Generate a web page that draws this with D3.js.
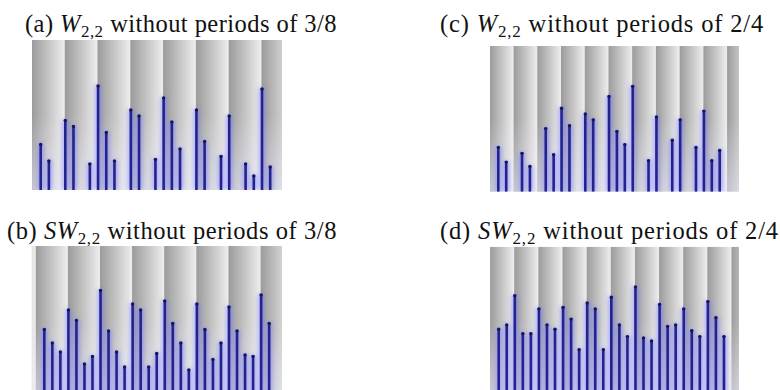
<!DOCTYPE html>
<html>
<head>
<meta charset="utf-8">
<script src="https://cdn.jsdelivr.net/npm/d3@7/dist/d3.min.js"></script>
<style>
  body { margin: 0; background: #fff; }
  svg { display: block; }
</style>
</head>
<body>
<svg id="chart"></svg>
<script>
// slot positions that carry a bar
const slotsW = [1, 2, 4, 5, 7, 8, 9, 10, 12, 13, 15, 16, 17, 18, 20, 21, 23, 24, 26, 27, 28, 29];
const slotsSW = [1, 2, 3, 4, 5, 6, 7, 8, 9, 10, 11, 12, 13, 14, 15, 16, 17, 18, 19, 20, 21, 22, 23, 24, 25, 26, 27, 28, 29];

// bar heights, as a share of the panel height
const valuesA = [0.31, 0.20, 0.47, 0.43, 0.18, 0.70, 0.39, 0.20, 0.54, 0.50, 0.21,
                 0.62, 0.46, 0.28, 0.54, 0.33, 0.23, 0.50, 0.18, 0.10, 0.68, 0.16];
const valuesB = [0.45, 0.36, 0.30, 0.58, 0.51, 0.22, 0.27, 0.71, 0.44, 0.30, 0.20, 0.62, 0.58, 0.20, 0.29,
                 0.64, 0.49, 0.36, 0.18, 0.62, 0.45, 0.25, 0.36, 0.60, 0.44, 0.28, 0.27, 0.68, 0.49];
const valuesC = [0.31, 0.21, 0.27, 0.18, 0.44, 0.26, 0.58, 0.46, 0.54, 0.50, 0.66,
                 0.42, 0.33, 0.73, 0.22, 0.52, 0.36, 0.50, 0.31, 0.56, 0.22, 0.29];
const valuesD = [0.44, 0.47, 0.67, 0.41, 0.41, 0.58, 0.47, 0.44, 0.59, 0.51, 0.30, 0.62, 0.58, 0.30, 0.66,
                 0.47, 0.39, 0.73, 0.38, 0.36, 0.61, 0.46, 0.47, 0.58, 0.43, 0.39, 0.63, 0.52, 0.39];

const labels = ['(a)', '(b)', '(c)', '(d)'];
const symbols = ['W', 'SW', 'W', 'SW'];
const periods = ['3/8', '3/8', '2/4', '2/4'];

const W = 780, H = 390;
const svg = d3.select('#chart').attr('width', W).attr('height', H);
const defs = svg.append('defs');

const stripeGrad = defs.append('linearGradient').attr('id', 'stripe')
  .attr('x1', 0).attr('x2', 1).attr('y1', 0).attr('y2', 0);
stripeGrad.append('stop').attr('offset', 0).attr('stop-color', '#9b9b9b');
stripeGrad.append('stop').attr('offset', 0.55).attr('stop-color', '#c8c8c8');
stripeGrad.append('stop').attr('offset', 1).attr('stop-color', '#eeeeee');

const fadeGrad = defs.append('linearGradient').attr('id', 'fade')
  .attr('x1', 0).attr('x2', 0).attr('y1', 0).attr('y2', 1);
fadeGrad.append('stop').attr('offset', 0.5).attr('stop-color', '#eeeeff').attr('stop-opacity', 0);
fadeGrad.append('stop').attr('offset', 1).attr('stop-color', '#eeeeff').attr('stop-opacity', 0.5);

// vertical lines have a zero-width bbox, so the blur region is set in user space
defs.append('filter').attr('id', 'glow')
  .attr('filterUnits', 'userSpaceOnUse')
  .attr('x', 0).attr('y', 0).attr('width', W).attr('height', H + 20)
  .append('feGaussianBlur').attr('stdDeviation', 2.2);

const panels = [
  { slots: slotsW,  values: valuesA, period: 4, left: 32,  right: 282, top: 40,    bottom: 190,   domain: [-0.06, 30.44], tx: 25,  ty: 31.5, tw: 312 },
  { slots: slotsSW, values: valuesB, period: 4, left: 31.7, right: 282, top: 246,  bottom: 396,   domain: [-0.57, 30.6],  tx: 7,   ty: 238.5, tw: 330 },
  { slots: slotsW,  values: valuesC, period: 3, left: 490, right: 739, top: 46,    bottom: 191.7, domain: [-0.05, 31.44], tx: 440, ty: 31.5, tw: 324 },
  { slots: slotsSW, values: valuesD, period: 3, left: 490, right: 739, top: 246.7, bottom: 392.4, domain: [-0.08, 30.87], tx: 440, ty: 239, tw: 339 }
];

panels.forEach((p, i) => {
  const x = d3.scaleLinear().domain(p.domain).range([p.left, p.right]);
  const y = d3.scaleLinear().domain([0, 1]).range([p.bottom, p.top]);
  const visBottom = Math.min(p.bottom, H);

  defs.append('clipPath').attr('id', 'clip' + i)
    .append('rect')
      .attr('x', p.left).attr('y', p.top)
      .attr('width', p.right - p.left).attr('height', visBottom - p.top);

  const g = svg.append('g').attr('clip-path', `url(#clip${i})`);

  // background stripes, one per period
  const starts = d3.range(-1, Math.ceil(p.domain[1] / p.period) + 1).map(m => m * p.period - 0.07);
  g.selectAll('rect.stripe')
    .data(starts)
    .enter()
    .append('rect')
      .attr('class', 'stripe')
      .attr('x', d => x(d))
      .attr('y', p.top)
      .attr('width', d => x(d + p.period) - x(d))
      .attr('height', p.bottom - p.top)
      .attr('fill', 'url(#stripe)');

  g.append('rect')
    .attr('x', p.left).attr('y', p.top)
    .attr('width', p.right - p.left).attr('height', p.bottom - p.top)
    .attr('fill', 'url(#fade)');

  const bars = p.slots.map((s, k) => ({ slot: s, value: p.values[k] }));

  g.selectAll('line.halo')
    .data(bars)
    .enter()
    .append('line')
      .attr('class', 'halo')
      .attr('x1', d => x(d.slot)).attr('x2', d => x(d.slot))
      .attr('y1', y(0)).attr('y2', d => y(d.value))
      .attr('stroke', '#7474ff')
      .attr('stroke-width', 6)
      .attr('stroke-opacity', 0.55)
      .attr('filter', 'url(#glow)');

  g.selectAll('line.bar')
    .data(bars)
    .enter()
    .append('line')
      .attr('class', 'bar')
      .attr('x1', d => x(d.slot)).attr('x2', d => x(d.slot))
      .attr('y1', y(0)).attr('y2', d => y(d.value))
      .attr('stroke', '#23238f')
      .attr('stroke-width', 2.6);

  g.selectAll('circle.tip')
    .data(bars)
    .enter()
    .append('circle')
      .attr('class', 'tip')
      .attr('cx', d => x(d.slot))
      .attr('cy', d => y(d.value) + 1)
      .attr('r', 1.7)
      .attr('fill', '#16165e');

  // caption, stretched a little to the width of the original
  const t = svg.append('text')
    .attr('x', p.tx).attr('y', p.ty)
    .attr('font-family', '"Liberation Serif", "DejaVu Serif", serif')
    .attr('font-size', 24.5)
    .attr('fill', '#111');
  t.append('tspan').text(labels[i] + ' ');
  t.append('tspan').attr('font-style', 'italic').text(symbols[i]);
  t.append('tspan').attr('font-size', 17).attr('dy', 5).text('2,2');
  t.append('tspan').attr('dy', -5).text(' without periods of ' + periods[i]);

  const len = t.node().getComputedTextLength();
  const chars = t.text().length;
  t.attr('letter-spacing', Math.max(0, (p.tw - len) / chars));
});
</script>
</body>
</html>
